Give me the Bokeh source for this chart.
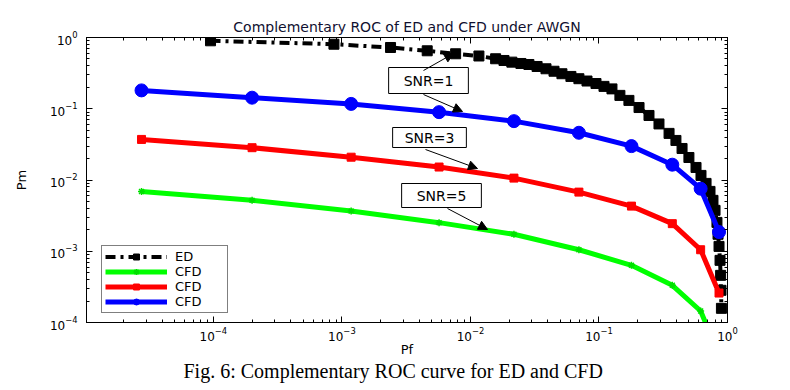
from bokeh.plotting import figure
from bokeh.models import (Range1d, LogAxis, LogTicker, Legend, LegendItem, Label,
                          Arrow, NormalHead, CustomJSTickFormatter, Title)
from bokeh.embed import file_html
from bokeh.resources import INLINE

# ---------------- data ----------------
cfd_pf = [2.76e-5, 2.0e-4, 1.18e-3, 5.7e-3, 0.0218, 0.0698, 0.179, 0.372, 0.618, 0.859]
cfd_pm_snr1 = [0.181, 0.143, 0.117, 0.0896, 0.067, 0.046, 0.0299, 0.0164, 0.00755, 0.00186]
cfd_pm_snr3 = [0.0371, 0.0284, 0.0209, 0.0152, 0.01063, 0.00676, 0.0043, 0.00244, 0.00105, 0.000259]
cfd_pm_snr5 = [0.0069, 0.00518, 0.00366, 0.00252, 0.00173, 0.00105, 0.000634, 0.000333, 0.000145, 0.000035]

ed_pf = [9.5e-5, 8.67e-4, 2.39e-3, 4.61e-3, 7.67e-3, 0.01164, 0.0157, 0.01824, 0.0210, 0.0247,
         0.0285, 0.0330, 0.0387, 0.0447, 0.0515, 0.0605, 0.0698, 0.0807, 0.0948, 0.1094,
         0.1262, 0.1455, 0.171, 0.205, 0.245, 0.293, 0.351, 0.397, 0.443, 0.501,
         0.569, 0.622, 0.681, 0.731, 0.771, 0.800, 0.828, 0.844, 0.859, 0.875,
         0.884, 0.890, 0.897]
ed_pm = [0.899, 0.805, 0.724, 0.651, 0.591, 0.550, 0.503, 0.476, 0.451, 0.432,
         0.418, 0.392, 0.364, 0.336, 0.310, 0.284, 0.264, 0.245, 0.226, 0.206,
         0.190, 0.154, 0.131, 0.104, 0.0805, 0.0612, 0.0451, 0.0359, 0.0277, 0.0207,
         0.0150, 0.0116, 0.00896, 0.00692, 0.00518, 0.00375, 0.00254, 0.00173, 0.00117, 0.000745,
         0.000459, 0.000283, 0.000158]

title_text = "Complementary ROC of ED and CFD under AWGN"
caption_text = "Fig. 6: Complementary ROC curve for ED and CFD"
x_label = "Pf"
y_label = "Pm"
legend_labels = ["ED", "CFD", "CFD", "CFD"]
snr_labels = ["SNR=1", "SNR=3", "SNR=5"]

# ---------------- figure ----------------
FONT = "DejaVu Sans"
p = figure(width=790, height=390, x_axis_type="log", y_axis_type="log",
           x_range=Range1d(1.03e-5, 1.0), y_range=Range1d(1e-4, 1.0),
           output_backend="svg", toolbar_location=None, title=None,
           min_border_left=86, min_border_right=63, min_border_top=37, min_border_bottom=68)
p.grid.visible = False
p.outline_line_color = "black"
p.outline_line_width = 1
p.background_fill_color = "white"
p.border_fill_color = "white"

def style_axis(ax):
    ax.axis_line_color = "black"
    ax.major_tick_in = 6
    ax.major_tick_out = 0
    ax.minor_tick_in = 3
    ax.minor_tick_out = 0
    ax.major_tick_line_color = "black"
    ax.minor_tick_line_color = "black"
    ax.major_label_text_font = FONT
    ax.major_label_text_font_size = "12px"
    ax.major_label_text_color = "black"
    ax.axis_label_text_font = FONT
    ax.axis_label_text_font_size = "13px"
    ax.axis_label_text_font_style = "normal"
    ax.axis_label_text_color = "black"

for ax in [p.xaxis[0], p.yaxis[0]]:
    style_axis(ax)
    ax.ticker = LogTicker(num_minor_ticks=10)
p.xaxis[0].axis_label = x_label
p.yaxis[0].axis_label = y_label
p.xaxis[0].major_label_standoff = 4
p.xaxis[0].axis_label_standoff = -2
p.yaxis[0].major_label_standoff = 9
p.yaxis[0].axis_label_standoff = 18

blank = CustomJSTickFormatter(code="return ''")
top_ax = LogAxis(ticker=LogTicker(num_minor_ticks=10), formatter=blank)
right_ax = LogAxis(ticker=LogTicker(num_minor_ticks=10), formatter=blank)
for ax in (top_ax, right_ax):
    style_axis(ax)
    ax.major_label_standoff = 0
    ax.major_label_text_font_size = "0px"
p.add_layout(top_ax, "above")
p.add_layout(right_ax, "right")

p.add_layout(Title(text=title_text, align="center", standoff=6,
                   text_font=FONT, text_font_size="14px", text_font_style="normal",
                   text_color="#101030"), "above")
p.add_layout(Title(text=caption_text, align="left", offset=97, standoff=-3,
                   text_font="Liberation Serif", text_font_size="20px",
                   text_font_style="normal", text_color="black"), "below")

# ---------------- series ----------------
ed_line = p.line(ed_pf, ed_pm, line_color="black", line_width=4, line_dash="10 5 3 5")
ed_pts = p.scatter(ed_pf, ed_pm, marker="square", size=10, fill_color="black", line_color="black")

g_line = p.line(cfd_pf, cfd_pm_snr5, line_color="#00ff00", line_width=5)
g_pts = p.scatter(cfd_pf, cfd_pm_snr5, marker="asterisk", size=7, line_color="#00e000", line_width=1.5)

r_line = p.line(cfd_pf, cfd_pm_snr3, line_color="#ff0000", line_width=5)
r_pts = p.scatter(cfd_pf, cfd_pm_snr3, marker="square", size=8, fill_color="#ff0000", line_color="#ff0000")

b_line = p.line(cfd_pf, cfd_pm_snr1, line_color="#0000ff", line_width=5)
b_pts = p.scatter(cfd_pf, cfd_pm_snr1, marker="circle", size=13, fill_color="#0000ff", line_color="#0000ff")

legend = Legend(items=[
    LegendItem(label=legend_labels[0], renderers=[ed_line, ed_pts]),
    LegendItem(label=legend_labels[1], renderers=[g_line, g_pts]),
    LegendItem(label=legend_labels[2], renderers=[r_line, r_pts]),
    LegendItem(label=legend_labels[3], renderers=[b_line, b_pts]),
], location=(15, 9))
legend.padding = 3
legend.spacing = 0
legend.margin = 0
legend.glyph_width = 62
legend.glyph_height = 15
legend.label_height = 15
legend.label_width = 49
legend.label_standoff = 8
legend.label_text_font = FONT
legend.label_text_font_size = "13px"
legend.label_text_color = "black"
legend.border_line_color = "black"
legend.border_line_width = 1
legend.background_fill_color = "white"
legend.background_fill_alpha = 1
p.add_layout(legend)

# ---------------- annotations ----------------
def box_label(x, y, text, pad):
    return Label(x=x, y=y, x_units="screen", y_units="screen", text=text,
                 text_align="center", text_baseline="middle", text_font=FONT,
                 text_font_size="14px", text_color="black",
                 background_fill_color="white", border_line_color="black",
                 border_line_width=1, padding=pad)

p.add_layout(box_label(342, 242, snr_labels[0], (15, 5)))
p.add_layout(box_label(343, 185, snr_labels[1], (12, 2)))
p.add_layout(box_label(355, 127, snr_labels[2], (15, 4)))

def arrow(xs, ys, xe, ye):
    return Arrow(end=NormalHead(size=9, fill_color="black", line_color="black", line_width=1),
                 x_start=xs, y_start=ys, x_end=xe, y_end=ye,
                 start_units="screen", end_units="screen",
                 line_color="black", line_width=1)

p.add_layout(arrow(337, 252, 367, 269))
p.add_layout(arrow(337, 228, 376, 211))
p.add_layout(arrow(339, 173, 391, 154))
p.add_layout(arrow(361, 114, 401, 93))

open("out.html", "w").write(file_html(p, INLINE))
